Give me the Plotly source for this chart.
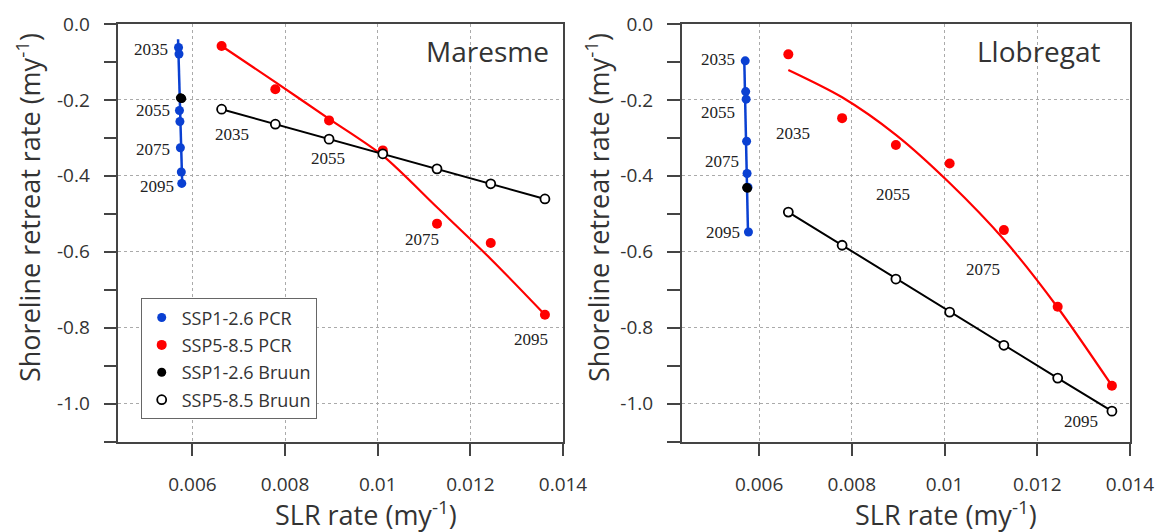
import plotly.graph_objects as go

# ---------------- data ----------------
years_lbl = ["2035", "2055", "2075", "2095"]

slr_ssp126 = [0.00570, 0.00571, 0.00572, 0.00573, 0.00574, 0.00576, 0.00577]
slr_ssp585 = [0.00663, 0.00779, 0.00895, 0.01011, 0.01128, 0.01244, 0.01361]

# Maresme
mar_pcr126 = [-0.062, -0.079, -0.228, -0.257, -0.326, -0.390, -0.420]
mar_pcr585 = [-0.058, -0.172, -0.254, -0.333, -0.526, -0.577, -0.766]
mar_bruun126_x = [0.00574, 0.005755, 0.00577]
mar_bruun126 = [-0.1945, -0.1955, -0.1965]
mar_bruun585 = [-0.2245, -0.264, -0.3035, -0.342, -0.3816, -0.421, -0.461]
mar_fit126_x = [0.00569, 0.00578]
mar_fit126_y = [-0.040, -0.421]
mar_fit585_y = [-0.058, -0.153, -0.250, -0.347, -0.483, -0.619, -0.766]

# Llobregat
llo_pcr126 = [-0.097, -0.178, -0.198, -0.309, -0.394, -0.430, -0.548]
llo_pcr585 = [-0.080, -0.248, -0.319, -0.3675, -0.543, -0.745, -0.953]
llo_bruun126_x = [0.00573, 0.00575]
llo_bruun126 = [-0.431, -0.433]
llo_bruun585 = [-0.4955, -0.583, -0.672, -0.759, -0.8465, -0.933, -1.020]
llo_fit126_x = [0.00568, 0.00576]
llo_fit126_y = [-0.097, -0.548]
llo_fit585_y = [-0.121, -0.193, -0.292, -0.419, -0.568, -0.747, -0.953]

# year label placements (data coords)
mar_lbl126_x = [0.00511, 0.00514, 0.00515, 0.00524]
mar_lbl126_y = [-0.068, -0.229, -0.331, -0.428]
mar_lbl585_x = [0.00685, 0.00892, 0.01095, 0.01331]
mar_lbl585_y = [-0.292, -0.355, -0.568, -0.832]
llo_lbl126_x = [0.00511, 0.00512, 0.00519, 0.00521]
llo_lbl126_y = [-0.093, -0.232, -0.361, -0.549]
llo_lbl585_x = [0.00673, 0.00889, 0.01082, 0.01294]
llo_lbl585_y = [-0.288, -0.450, -0.647, -1.047]

xtick_vals = [0.006, 0.008, 0.010, 0.012, 0.014]
xtick_text = ["0.006", "0.008", "0.01", "0.012", "0.014"]
ytick_vals = [0.0, -0.2, -0.4, -0.6, -0.8, -1.0]
ytick_text = ["0.0", "-0.2", "-0.4", "-0.6", "-0.8", "-1.0"]

# ---------------- styles ----------------
BLUE = "#0a40d2"
RED = "#ff0000"
BLACK = "#000000"
FONT = "Open Sans"
SERIF = "Liberation Serif"

fig = go.Figure()


def add_panel(xa, ya, pcr126, pcr585, b126x, b126, b585, f126x, f126y, f585y, legend):
    fig.add_trace(go.Scatter(x=f126x, y=f126y, mode="lines", line=dict(color=BLUE, width=2.5),
                             showlegend=False, xaxis=xa, yaxis=ya, hoverinfo="skip"))
    fig.add_trace(go.Scatter(x=slr_ssp585, y=f585y, mode="lines",
                             line=dict(color=RED, width=2.2, shape="spline", smoothing=0.8),
                             showlegend=False, xaxis=xa, yaxis=ya, hoverinfo="skip"))
    fig.add_trace(go.Scatter(x=slr_ssp585, y=b585, mode="lines", line=dict(color=BLACK, width=2),
                             showlegend=False, xaxis=xa, yaxis=ya, hoverinfo="skip"))
    fig.add_trace(go.Scatter(x=slr_ssp126, y=pcr126, mode="markers", name="SSP1-2.6 PCR",
                             marker=dict(color=BLUE, size=9), showlegend=legend, legendgroup="a",
                             xaxis=xa, yaxis=ya))
    fig.add_trace(go.Scatter(x=slr_ssp585, y=pcr585, mode="markers", name="SSP5-8.5 PCR",
                             marker=dict(color=RED, size=10), showlegend=legend, legendgroup="b",
                             xaxis=xa, yaxis=ya))
    fig.add_trace(go.Scatter(x=b126x, y=b126, mode="markers", name="SSP1-2.6 Bruun",
                             marker=dict(color=BLACK, size=9), showlegend=legend, legendgroup="c",
                             xaxis=xa, yaxis=ya))
    fig.add_trace(go.Scatter(x=slr_ssp585, y=b585, mode="markers", name="SSP5-8.5 Bruun",
                             marker=dict(color="white", size=9, line=dict(color=BLACK, width=1.8)),
                             showlegend=legend, legendgroup="d", xaxis=xa, yaxis=ya))


add_panel("x", "y", mar_pcr126, mar_pcr585, mar_bruun126_x, mar_bruun126, mar_bruun585,
          mar_fit126_x, mar_fit126_y, mar_fit585_y, True)
add_panel("x2", "y2", llo_pcr126, llo_pcr585, llo_bruun126_x, llo_bruun126, llo_bruun585,
          llo_fit126_x, llo_fit126_y, llo_fit585_y, False)

annotations = []
for xr, yr, lx, ly in [("x", "y", mar_lbl126_x, mar_lbl126_y), ("x", "y", mar_lbl585_x, mar_lbl585_y),
                       ("x2", "y2", llo_lbl126_x, llo_lbl126_y), ("x2", "y2", llo_lbl585_x, llo_lbl585_y)]:
    for t, xv, yv in zip(years_lbl, lx, ly):
        annotations.append(dict(x=xv, y=yv, xref=xr, yref=yr, text=t, showarrow=False,
                                font=dict(family=SERIF, size=17, color="#222"),
                                xanchor="center", yanchor="middle"))

annotations.append(dict(x=0.013735, y=-0.071, xref="x", yref="y", text="Maresme", showarrow=False,
                        font=dict(family=FONT, size=28, color="#333"), xanchor="right", yanchor="middle"))
annotations.append(dict(x=0.013424, y=-0.072, xref="x2", yref="y2", text="Llobregat", showarrow=False,
                        font=dict(family=FONT, size=28, color="#333"), xanchor="right", yanchor="middle"))

ytitle = "Shoreline retreat rate (my<sup>-1</sup>)"
xtitle = "SLR rate (my<sup>-1</sup>)"
for xp, yp, txt, ang in [(28 / 1158, 1 - 208 / 532, ytitle, -90), (597 / 1158, 1 - 208 / 532, ytitle, -90),
                         (366 / 1158, 1 - 513 / 532, xtitle, 0), (946 / 1158, 1 - 513 / 532, xtitle, 0)]:
    annotations.append(dict(x=xp, y=yp, xref="paper", yref="paper", text=txt, showarrow=False,
                            textangle=ang, font=dict(family=FONT, size=27, color="#333"),
                            xanchor="center", yanchor="middle"))

xaxis_common = dict(tickvals=xtick_vals, ticktext=xtick_text, ticks="outside", ticklen=13, tickwidth=1.5,
                    tickcolor="#444", showline=True, linecolor="#444", linewidth=1.5, mirror=True,
                    showgrid=True, gridcolor="#aaaaaa", griddash="dot", gridwidth=1, zeroline=False,
                    tickfont=dict(family=FONT, size=19, color="#333"), ticklabelstandoff=12,
                    automargin=False)
yaxis_common = dict(range=[-1.1, 0.0], tickvals=ytick_vals, ticktext=ytick_text, ticks="outside", ticklen=13,
                    tickwidth=1.5, tickcolor="#444", showline=True, linecolor="#444", linewidth=1.5,
                    mirror=True, showgrid=True, gridcolor="#aaaaaa", griddash="dot", gridwidth=1,
                    zeroline=False, tickfont=dict(family=FONT, size=19, color="#333"), ticklabelstandoff=10,
                    automargin=False,
                    minor=dict(dtick=0.1, tick0=0, ticks="outside", ticklen=13, tickwidth=1.5,
                               tickcolor="#444", showgrid=False))

fig.update_layout(
    width=1158, height=532, margin=dict(l=0, r=0, t=0, b=0, autoexpand=False),
    paper_bgcolor="white", plot_bgcolor="white",
    xaxis=dict(domain=[118.3 / 1158, 563 / 1158], range=[0.0044, 0.014], anchor="y", **xaxis_common),
    yaxis=dict(domain=[1 - 441.5 / 532, 1 - 24 / 532], anchor="x", **yaxis_common),
    xaxis2=dict(domain=[681.7 / 1158, 1130 / 1158], range=[0.00433, 0.014], anchor="y2", **xaxis_common),
    yaxis2=dict(domain=[1 - 441.5 / 532, 1 - 24 / 532], anchor="x2", **yaxis_common),
    annotations=annotations,
    legend=dict(x=140.7 / 1158, y=1 - 298.3 / 532, xanchor="left", yanchor="top",
                bordercolor="#666", borderwidth=1, bgcolor="white",
                font=dict(family=FONT, size=18, color="#333"), tracegroupgap=1, itemwidth=30),
    showlegend=True,
)

fig.write_html("out.html", config={"displayModeBar": False},
               post_script="document.body.style.margin='0';document.body.style.overflow='hidden';")
